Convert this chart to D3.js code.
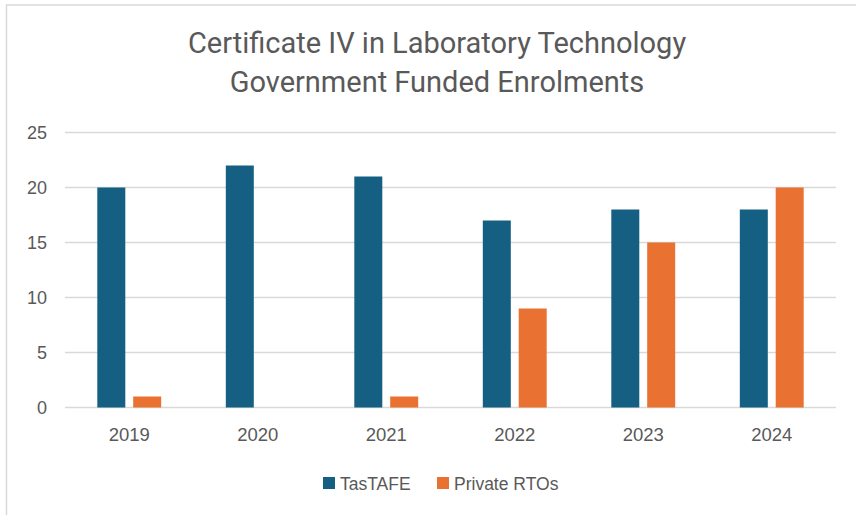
<!DOCTYPE html>
<html>
<head>
<meta charset="utf-8">
<script src="https://cdn.jsdelivr.net/npm/d3@7"></script>
<style>
  body { margin: 0; background: #fff; }
  text { font-family: "Liberation Sans", Arial, sans-serif; }
</style>
</head>
<body>
<div class="chart"></div>
<script>
const years = ['2019', '2020', '2021', '2022', '2023', '2024'];
const tastafe = [20, 22, 21, 17, 18, 18];
const privateRtos = [1, 0, 1, 9, 15, 20];
const seriesNames = ['TasTAFE', 'Private RTOs'];
const yTicks = [0, 5, 10, 15, 20, 25];
const titleLines = ['Certificate IV in Laboratory Technology', 'Government Funded Enrolments'];

const width = 856;
const height = 515;
const margin = { top: 132.5, right: 20, bottom: 107.5, left: 65 };
const colors = ['#156082', '#E97132'];

const svg = d3.select('.chart')
.append('svg')
.attr('width', width)
.attr('height', height);

// outer border like the office chart frame
svg.append('rect')
.attr('x', 6.5)
.attr('y', 5)
.attr('width', width + 10)
.attr('height', height + 10)
.attr('fill', 'none')
.attr('stroke', '#d9d9d9')
.attr('stroke-width', 1.5);

const x0 = d3.scaleBand()
.domain(years)
.range([margin.left, width - margin.right]);

const x1 = d3.scaleBand()
.domain(seriesNames)
.range([0, x0.bandwidth()])
.paddingInner(0.22)
.paddingOuter(0.9);

const yScale = d3.scaleLinear()
.domain([0, 25])
.range([height - margin.bottom, margin.top]);

// gridlines
svg.append('g')
.selectAll('line')
.data(yTicks)
.enter()
.append('line')
.attr('x1', margin.left)
.attr('x2', width - margin.right)
.attr('y1', d => yScale(d))
.attr('y2', d => yScale(d))
.attr('stroke', '#d9d9d9')
.attr('stroke-width', 1.5);

const yAxis = svg.append('g')
.attr('transform', 'translate(47,0)')
.call(d3.axisLeft(yScale).tickValues(yTicks).tickSize(0).tickPadding(0));
yAxis.select('.domain').remove();
yAxis.selectAll('text')
.attr('fill', '#595959')
.style('font-size', '18px')
.style('font-family', '"Liberation Sans", Arial, sans-serif');

const xAxis = svg.append('g')
.attr('transform', `translate(0,${height - margin.bottom})`)
.call(d3.axisBottom(x0).tickSize(0).tickPadding(20.5));
xAxis.select('.domain').remove();
xAxis.selectAll('text')
.attr('fill', '#595959')
.style('font-size', '18.5px')
.style('font-family', '"Liberation Sans", Arial, sans-serif');

const rows = years.map((y, i) => ({ year: y, values: [tastafe[i], privateRtos[i]] }));

const groups = svg.append('g')
.selectAll('g')
.data(rows)
.enter()
.append('g')
.attr('transform', d => `translate(${x0(d.year)},0)`);

groups.selectAll('rect')
.data(d => d.values.map((v, j) => ({ name: seriesNames[j], value: v, j: j })))
.enter()
.append('rect')
.attr('x', d => x1(d.name))
.attr('width', x1.bandwidth())
.attr('y', d => yScale(d.value))
.attr('height', d => yScale(0) - yScale(d.value))
.attr('fill', d => colors[d.j]);

// title
svg.append('g')
.selectAll('text')
.data(titleLines)
.enter()
.append('text')
.attr('x', 437)
.attr('y', (d, i) => 53 + i * 39)
.attr('text-anchor', 'middle')
.attr('fill', '#595959')
.style('font-size', '29px')
.style('font-family', 'Roboto, sans-serif')
.text(d => d);

// legend
const legendX = [323, 437];
const legend = svg.append('g')
.selectAll('g')
.data(seriesNames)
.enter()
.append('g')
.attr('transform', (d, i) => `translate(${legendX[i]},477)`);

legend.append('rect')
.attr('width', 12)
.attr('height', 12)
.attr('fill', (d, i) => colors[i]);

legend.append('text')
.attr('x', 17)
.attr('y', 12.5)
.attr('fill', '#595959')
.style('font-size', '17.5px')
.text(d => d);
</script>
</body>
</html>
